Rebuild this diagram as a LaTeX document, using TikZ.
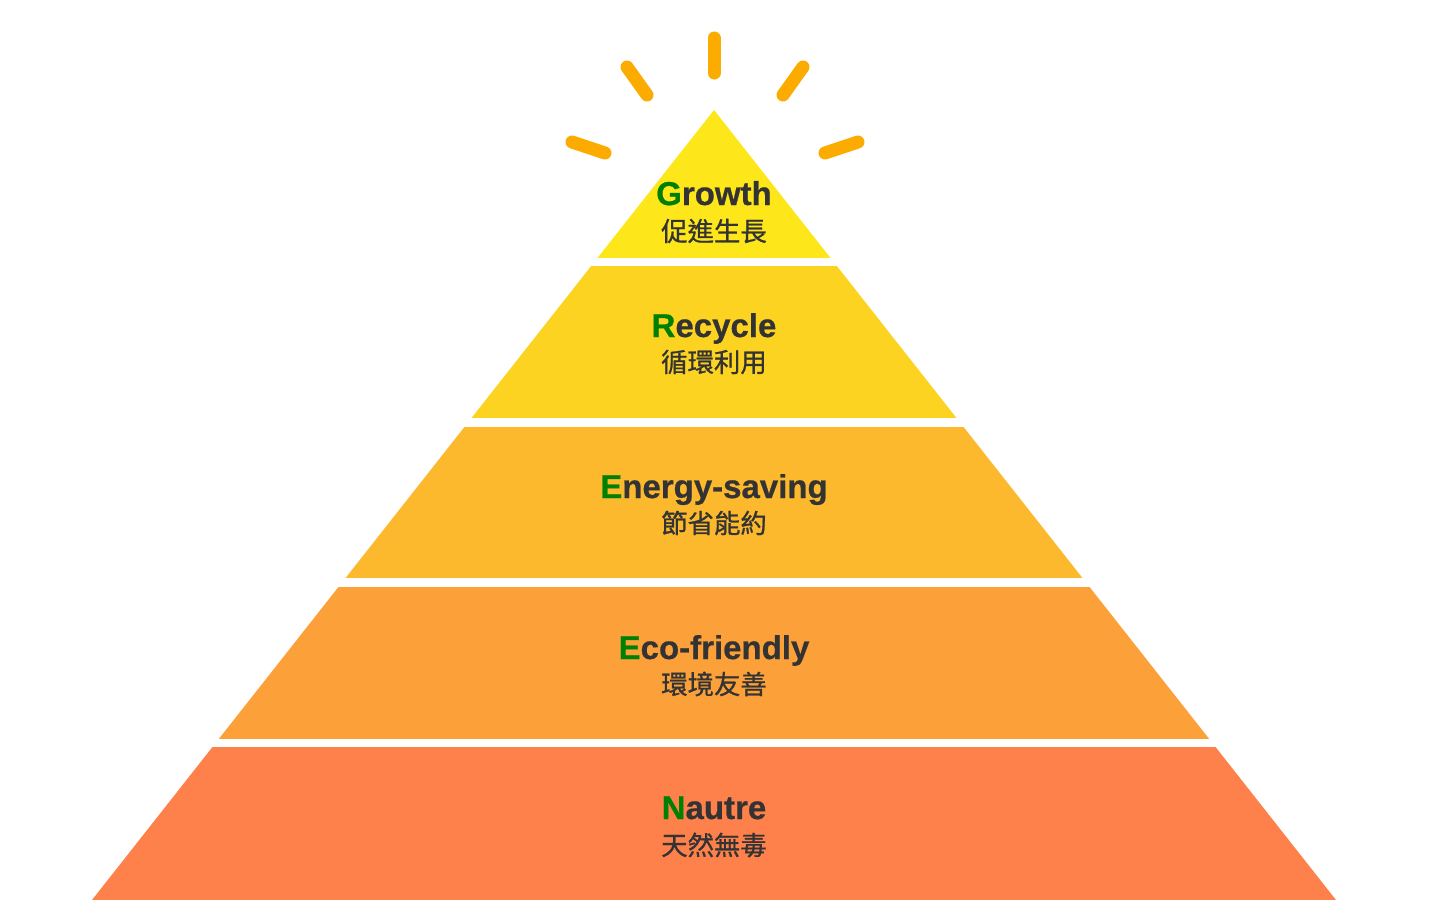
\documentclass[tikz,border=0pt]{standalone}
\usepackage{fontspec}
\setmainfont{Liberation Sans}[BoldFeatures={FakeBold=0.6}]
\newfontfamily\zhfont{Noto Sans CJK TC}[FakeBold=0.8]
\definecolor{tierA}{HTML}{FDE619}
\definecolor{tierB}{HTML}{FDD321}
\definecolor{tierC}{HTML}{FCB92E}
\definecolor{tierD}{HTML}{FCA13A}
\definecolor{tierE}{HTML}{FE804A}
\definecolor{rayorange}{HTML}{FCAC00}
\definecolor{textgray}{HTML}{333333}
\definecolor{leafgreen}{HTML}{008000}
\newcommand{\leadgreen}[2]{\textcolor{leafgreen}{#1}#2}

\begin{document}
\begin{tikzpicture}[x=0.5pt,y=-0.5pt,
  ray/.style={line width=6.5pt,line cap=round,draw=rayorange},
  en text/.style={font=\fontsize{16.5}{18}\selectfont\bfseries,text=textgray,inner sep=0pt,anchor=base},
  zh text/.style={font=\zhfont\fontsize{13.2}{15}\selectfont,text=textgray,inner sep=0pt}]
  \useasboundingbox (0,0) rectangle (1429,900);

  % rays above the top
  \draw[ray] (714,38) -- (714,73);
  \draw[ray] (627,67) -- (647,95);
  \draw[ray] (803,67) -- (783,95);
  \draw[ray] (572,142) -- (605,153);
  \draw[ray] (858,142) -- (825,153);

  % pyramid tiers
  \begin{scope}
    \clip (714,110) -- (1336,900) -- (92,900) -- cycle;
    \fill[tierA] (0,100) rectangle (1429,258);
    \fill[tierB] (0,266) rectangle (1429,418);
    \fill[tierC] (0,427) rectangle (1429,578);
    \fill[tierD] (0,587) rectangle (1429,739);
    \fill[tierE] (0,747) rectangle (1429,900);
  \end{scope}

  \node[en text] (growth) at (714,205) {\leadgreen{G}{rowth}};
  \node[zh text] (growth zh) at (714,231) {促進生長};
  \node[en text] (recycle) at (714,337) {\leadgreen{R}{ecycle}};
  \node[zh text] (recycle zh) at (714,362) {循環利用};
  \node[en text] (energy) at (714,498) {\leadgreen{E}{nergy-saving}};
  \node[zh text] (energy zh) at (714,523) {節省能約};
  \node[en text] (eco) at (714,659) {\leadgreen{E}{co-friendly}};
  \node[zh text] (eco zh) at (714,684) {環境友善};
  \node[en text] (nature) at (714,819) {\leadgreen{N}{autre}};
  \node[zh text] (nature zh) at (714,845) {天然無毒};
\end{tikzpicture}
\end{document}
